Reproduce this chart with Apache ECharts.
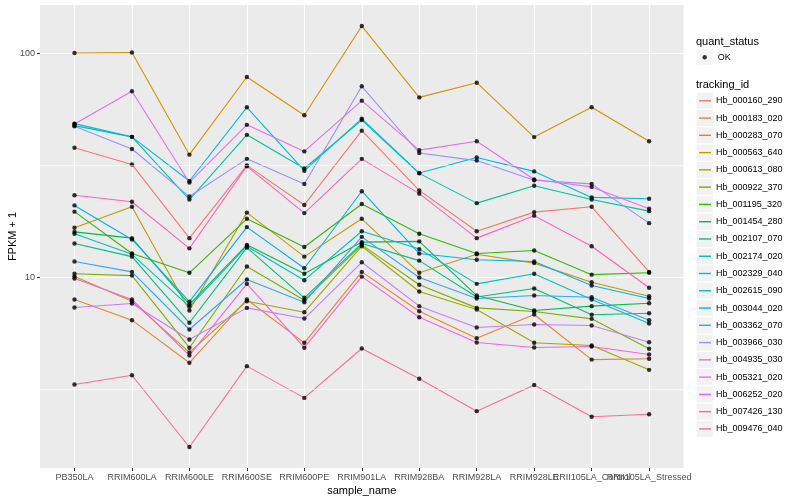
<!DOCTYPE html>
<html><head><meta charset="utf-8">
<script src="https://cdn.jsdelivr.net/npm/echarts@6/dist/echarts.min.js"></script>
<style>html,body{margin:0;padding:0;background:#fff}#chart{width:800px;height:500px}</style>
</head><body><div id="chart"></div>
<script>
// ---------- data ----------
const categories = ['PB350LA','RRIM600LA','RRIM600LE','RRIM600SE','RRIM600PE','RRIM901LA','RRIM928BA','RRIM928LA','RRIM928LE','RRII105LA_Control','RRII105LA_Stressed'];
const trackingIds = ['Hb_000160_290','Hb_000183_020','Hb_000283_070','Hb_000563_640','Hb_000613_080','Hb_000922_370','Hb_001195_320','Hb_001454_280','Hb_002107_070','Hb_002174_020','Hb_002329_040','Hb_002615_090','Hb_003044_020','Hb_003362_070','Hb_003966_030','Hb_004935_030','Hb_005321_020','Hb_006252_020','Hb_007426_130','Hb_009476_040'];
const lineColors = ['#F8766D','#EA8331','#D89000','#C09B00','#A3A500','#7CAE00','#39B600','#00BB4E','#00BF7D','#00C1A3','#00BFC4','#00BAE0','#00B0F6','#35A2FF','#9590FF','#C77CFF','#E76BF3','#FA62DB','#FF62BC','#FF6C91'];

const hb_000160_290 = [38.0, 32.0, 15.0, 31.7, 21.1, 45.3, 24.5, 16.1, 19.6, 20.7, 10.6];
const hb_000183_020 = [7.98, 6.45, 4.16, 7.98, 5.11, 10.6, 7.07, 5.36, 6.84, 4.30, 4.34];
const hb_000283_070 = [100.7, 101.3, 35.4, 78.7, 53.1, 132.9, 63.8, 74.2, 42.4, 57.6, 40.6];
const hb_000563_640 = [16.7, 20.7, 7.12, 19.5, 12.4, 18.3, 10.5, 12.7, 11.6, 9.53, 8.25];
const hb_000613_080 = [10.1, 7.84, 4.63, 7.84, 7.00, 13.8, 8.66, 7.20, 5.11, 4.97, 3.87];
const hb_000922_370 = [10.4, 10.2, 4.86, 11.2, 7.92, 14.0, 9.28, 7.32, 7.05, 6.54, 4.81];
const hb_001195_320 = [19.7, 12.8, 10.5, 18.3, 13.7, 21.3, 15.7, 12.8, 13.2, 10.3, 10.5];
const hb_001454_280 = [16.0, 15.0, 7.58, 14.0, 10.4, 14.4, 14.5, 8.31, 7.12, 7.45, 7.68];
const hb_002107_070 = [14.2, 12.4, 6.28, 13.6, 8.12, 14.2, 11.9, 8.18, 8.93, 6.82, 6.93];
const hb_002174_020 = [47.7, 42.5, 22.3, 43.4, 30.7, 50.5, 29.2, 21.5, 25.7, 22.3, 19.8];
const hb_002329_040 = [15.7, 12.7, 7.42, 13.8, 9.73, 16.1, 13.4, 9.37, 10.4, 7.98, 6.23];
const hb_002615_090 = [48.7, 42.5, 27.0, 57.6, 30.0, 51.3, 29.3, 34.4, 29.8, 22.8, 22.5];
const hb_003044_020 = [21.0, 14.8, 7.81, 16.8, 11.0, 24.3, 12.8, 12.0, 11.8, 9.21, 8.06];
const hb_003362_070 = [11.8, 10.6, 5.86, 9.80, 7.76, 15.2, 10.0, 8.06, 8.31, 8.17, 6.45];
const hb_003966_030 = [47.4, 37.5, 23.0, 33.9, 26.2, 71.5, 36.0, 33.3, 27.2, 26.2, 17.5];
const hb_004935_030 = [7.35, 7.66, 5.29, 7.32, 6.56, 11.7, 7.45, 5.98, 6.17, 6.11, 5.14];
const hb_005321_020 = [48.5, 67.9, 26.6, 48.1, 36.6, 61.7, 37.1, 40.6, 27.4, 25.4, 20.3];
const hb_006252_020 = [9.90, 7.98, 4.49, 9.37, 4.86, 10.1, 6.65, 5.13, 4.87, 4.92, 4.53];
const hb_007426_130 = [23.3, 21.8, 13.5, 31.4, 19.4, 33.9, 23.7, 15.0, 18.9, 13.8, 9.0];
const hb_009476_040 = [3.33, 3.66, 1.75, 4.02, 2.90, 4.82, 3.53, 2.53, 3.31, 2.39, 2.45];

const seriesValues = [hb_000160_290, hb_000183_020, hb_000283_070, hb_000563_640, hb_000613_080, hb_000922_370, hb_001195_320, hb_001454_280, hb_002107_070, hb_002174_020, hb_002329_040, hb_002615_090, hb_003044_020, hb_003362_070, hb_003966_030, hb_004935_030, hb_005321_020, hb_006252_020, hb_007426_130, hb_009476_040];

const yTickValues = [10, 100];
const yMinorBreaks = [3.1623, 31.623];
const yMin = 1.41, yMax = 165;
const quantStatus = 'OK';

// ---------- layout ----------
const FONT = 'Liberation Sans';
const panel = { left: 40, top: 5, width: 643.6, height: 463 };
const step = panel.width / (categories.length + 0.2);
const inner = { left: panel.left + 0.6 * step, width: step * (categories.length - 1) };
const legendRow = 17.27;
const legendFirstCenter = 100.8;
const okCenter = 57.2;

const chart = echarts.init(document.getElementById('chart'), null, { renderer: 'canvas' });

const lineSeries = trackingIds.map((id, k) => ({
  type: 'line', name: id, xAxisIndex: 1, yAxisIndex: 1, z: 2,
  data: seriesValues[k], symbol: 'none', silent: true,
  itemStyle: { color: lineColors[k] },
  lineStyle: { color: lineColors[k], width: 1.1 },
  emphasis: { disabled: true }
}));

const pointData = [];
seriesValues.forEach(arr => arr.forEach((v, i) => pointData.push([i, v])));

const option = {
  animation: false,
  backgroundColor: '#ffffff',
  textStyle: { fontFamily: FONT },
  title: [
    { text: 'quant_status', left: 696, top: okCenter - 21, padding: 0, textStyle: { fontFamily: FONT, fontSize: 11, fontWeight: 'normal', color: '#000' } },
    { text: 'tracking_id', left: 696, top: legendFirstCenter - 21, padding: 0, textStyle: { fontFamily: FONT, fontSize: 11, fontWeight: 'normal', color: '#000' } }
  ],
  grid: [
    { left: panel.left, top: panel.top, width: panel.width, height: panel.height, show: true, backgroundColor: '#EBEBEB', borderWidth: 0, z: 0, containLabel: false, outerBoundsMode: 'none' },
    { left: inner.left, top: panel.top, width: inner.width, height: panel.height, show: false, z: 0, containLabel: false, outerBoundsMode: 'none' }
  ],
  xAxis: [
    { gridIndex: 0, type: 'value', min: 0, max: 1, show: false },
    { gridIndex: 1, type: 'category', data: categories, boundaryGap: false, z: 1,
      axisLine: { show: false },
      axisTick: { show: true, interval: 0, length: 3, lineStyle: { color: '#333', width: 1 } },
      axisLabel: { interval: 0, margin: 5, fontSize: 9, color: '#4D4D4D', fontFamily: FONT, hideOverlap: false },
      splitLine: { show: true, interval: 0, lineStyle: { color: '#fff', width: 1.1 } },
      name: 'sample_name', nameLocation: 'middle', nameGap: 17, nameMoveOverlap: false,
      nameTextStyle: { fontSize: 11, color: '#000', fontFamily: FONT } }
  ],
  yAxis: [
    { gridIndex: 0, type: 'log', logBase: 10, min: yMin, max: yMax, z: 1,
      axisLine: { show: false },
      axisTick: { show: true, customValues: yTickValues, length: 3, lineStyle: { color: '#333', width: 1 } },
      axisLabel: { customValues: yTickValues, margin: 5, fontSize: 9, color: '#4D4D4D', fontFamily: FONT,
        formatter: v => (yTickValues.indexOf(Math.round(+v)) >= 0 && Math.abs(+v - Math.round(+v)) < 1e-6) ? String(Math.round(+v)) : '' },
      splitLine: { show: true, lineStyle: { color: '#fff', width: 1.1 } },
      name: 'FPKM + 1', nameLocation: 'middle', nameGap: 22, nameRotate: 90, nameMoveOverlap: false,
      nameTextStyle: { fontSize: 11, color: '#000', fontFamily: FONT } },
    { gridIndex: 1, type: 'log', logBase: 10, min: yMin, max: yMax, show: false }
  ],
  legend: [
    { // grey key boxes for tracking_id
      data: trackingIds, orient: 'vertical', left: 696.7, top: legendFirstCenter - legendRow / 2, padding: 0, itemGap: 0,
      icon: 'rect', itemWidth: 16, itemHeight: 16, selectedMode: false,
      itemStyle: { color: '#F2F2F2', borderWidth: 0 },
      textStyle: { fontSize: 9, lineHeight: legendRow, color: 'rgba(0,0,0,0)', fontFamily: FONT }
    },
    { // coloured key lines
      data: trackingIds, orient: 'vertical', left: 699, top: legendFirstCenter - legendRow / 2, padding: 0, itemGap: 0,
      icon: 'rect', itemWidth: 12, itemHeight: 1.4, selectedMode: false,
      itemStyle: { borderWidth: 0 },
      textStyle: { fontSize: 9, lineHeight: legendRow, color: '#000', fontFamily: FONT }
    },
    { // grey box for quant_status
      data: [quantStatus], orient: 'vertical', left: 696.7, top: okCenter - legendRow / 2, padding: 0, itemGap: 0,
      icon: 'rect', itemWidth: 16, itemHeight: 16, selectedMode: false,
      itemStyle: { color: '#F2F2F2', borderWidth: 0 },
      textStyle: { fontSize: 9, lineHeight: legendRow, color: '#000', fontFamily: FONT }
    },
    { // dot for quant_status
      data: [quantStatus], orient: 'vertical', left: 702.5, top: okCenter - legendRow / 2, padding: 0, itemGap: 0,
      icon: 'circle', itemWidth: 4.4, itemHeight: 4.4, selectedMode: false,
      itemStyle: { color: '#000', borderWidth: 0 },
      textStyle: { fontSize: 9, lineHeight: legendRow, color: 'rgba(0,0,0,0)', fontFamily: FONT }
    }
  ],
  series: [
    { type: 'line', name: 'minorGrid', xAxisIndex: 0, yAxisIndex: 0, data: [], silent: true, z: 1, symbol: 'none',
      markLine: { silent: true, symbol: 'none', animation: false, label: { show: false },
        lineStyle: { color: '#fff', width: 0.55, type: 'solid' },
        emphasis: { disabled: true },
        data: yMinorBreaks.map(v => ({ yAxis: v })) } },
    ...lineSeries,
    { type: 'scatter', name: quantStatus, xAxisIndex: 1, yAxisIndex: 1, z: 3, silent: true,
      data: pointData, symbol: 'circle', symbolSize: 4.4,
      itemStyle: { color: '#000', borderWidth: 0 }, emphasis: { disabled: true } }
  ]
};
chart.setOption(option);
</script>
</body></html>
